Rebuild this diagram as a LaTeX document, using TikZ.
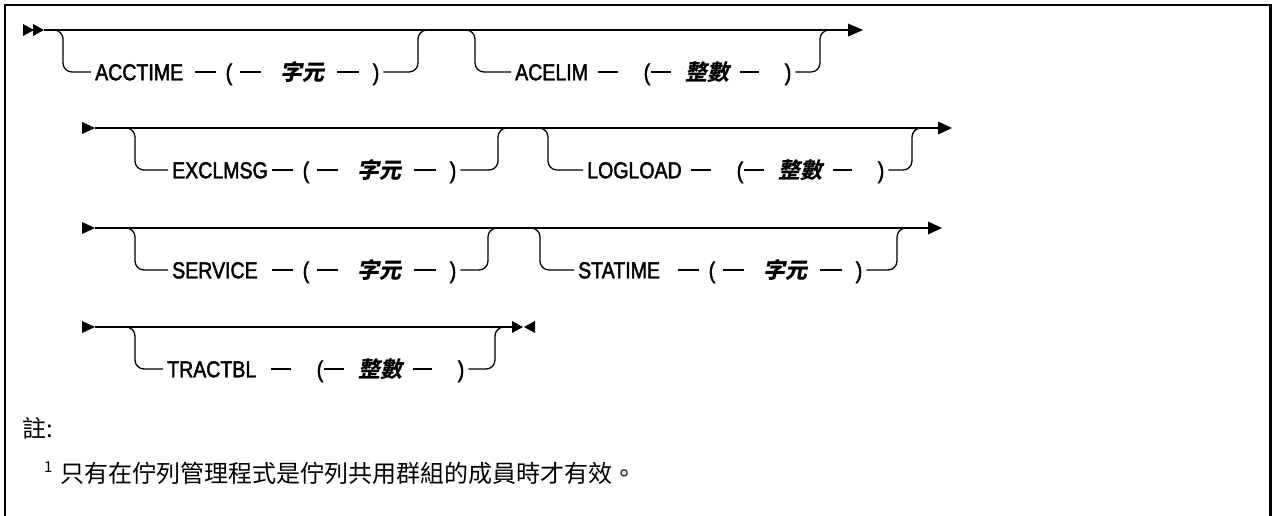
\documentclass[tikz,border=0pt]{standalone}
\usepackage{fontspec}
\usetikzlibrary{calc}
\newfontfamily\kwfont[FakeStretch=0.85,FakeBold=2]{Liberation Sans}
\newfontfamily\argfontfam[FakeSlant=0.2]{Noto Sans CJK TC}
\newfontfamily\notefont{Noto Sans CJK TC}
\tikzset{
  ln/.style={line width=1.3pt},
  tok/.style={inner sep=0pt, text height=18.5pt, text depth=2pt},
  kwd/.style={tok, anchor=west, font=\kwfont\fontsize{23}{27}\selectfont},
  par/.style={tok, font=\kwfont\fontsize{23}{27}\selectfont},
  argz/.style={tok, font=\argfontfam\bfseries\fontsize{22}{26}\selectfont},
  brk/.style={ln, rounded corners=9pt},
  notesty/.style={inner sep=0pt, font=\notefont\fontsize{24}{28}\selectfont},
  supsty/.style={inner sep=0pt, font=\notefont\fontsize{15}{18}\selectfont}
}
% group "KW -- ( -- 字元 -- )"
\newcommand{\zygroup}[4]{%
  \node[kwd] (#1k) at (#2,#3) {#4};
  \node[par] (#1l) at ($(#1k.west)+(134,0)$) {(};
  \node[argz] (#1a) at ($(#1k.west)+(207,0)$) {字元};
  \node[par] (#1r) at ($(#1k.west)+(281,0)$) {)};
  \draw[ln] ($(#1k.west)+(100,0)$) -- ($(#1k.west)+(121,0)$);
  \draw[ln] ($(#1k.west)+(145,0)$) -- ($(#1k.west)+(166,0)$);
  \draw[ln] ($(#1k.west)+(242,0)$) -- ($(#1k.west)+(264,0)$);
}
% group "KW -- (-- 整數 -- )"
\newcommand{\zsgroup}[5]{%
  \node[kwd] (#1k) at (#2,#3) {#4};
  \node[par] (#1l) at ($(#1k.west)+(153+#5,0)$) {(};
  \node[argz] (#1a) at ($(#1k.west)+(213+#5,0)$) {整數};
  \node[par] (#1r) at ($(#1k.west)+(294+#5,0)$) {)};
  \draw[ln] ($(#1k.west)+(104+#5,0)$) -- ($(#1k.west)+(124+#5,0)$);
  \draw[ln] ($(#1k.west)+(157+#5,0)$) -- ($(#1k.west)+(177+#5,0)$);
  \draw[ln] ($(#1k.west)+(246+#5,0)$) -- ($(#1k.west)+(265+#5,0)$);
}
\begin{document}
\begin{tikzpicture}[x=1pt,y=-1pt]
\useasboundingbox (0,0) rectangle (1274,515);
% frame
\draw[line width=2.5pt] (5,530) -- (5,5) -- (1270.5,5) -- (1270.5,530);

% ---------- row 1 ----------
\fill (23,24) -- (34,30) -- (23,36) -- cycle;
\fill (33,24) -- (44,30) -- (33,36) -- cycle;
\coordinate (s1) at (44,30);
\coordinate (e1) at (849,30);
\draw[ln] (s1) -- (e1);
\fill (848,23.5) -- (863,30) -- (848,36.5) -- cycle;
\zygroup{a}{95}{72}{ACCTIME}
\draw[brk] (45,30) -- (63,30) -- (63,72) -- ([xshift=-4pt]ak.west);
\draw[brk] ([xshift=4pt]ar.east) -- (418,72) -- (418,30) -- (436,30);
\zsgroup{b}{515}{72}{ACELIM}{-21}
\draw[brk] (457,30) -- (475,30) -- (475,72) -- ([xshift=-4pt]bk.west);
\draw[brk] ([xshift=4pt]br.east) -- (820,72) -- (820,30) -- (838,30);

% ---------- row 2 ----------
\fill (82,122) -- (95,128) -- (82,134) -- cycle;
\coordinate (s2) at (95,128);
\coordinate (e2) at (939,128);
\draw[ln] (s2) -- (e2);
\fill (938,121.5) -- (952,128) -- (938,134.5) -- cycle;
\zygroup{c}{172}{170}{EXCLMSG}
\draw[brk] (117,128) -- (135,128) -- (135,170) -- ([xshift=-4pt]ck.west);
\draw[brk] ([xshift=4pt]cr.east) -- (498,170) -- (498,128) -- (516,128);
\zsgroup{d}{587}{170}{LOGLOAD}{0}
\draw[brk] (530,128) -- (548,128) -- (548,170) -- ([xshift=-4pt]dk.west);
\draw[brk] ([xshift=4pt]dr.east) -- (912,170) -- (912,128) -- (930,128);

% ---------- row 3 ----------
\fill (82,222) -- (95,228) -- (82,234) -- cycle;
\coordinate (s3) at (95,228);
\coordinate (e3) at (929,228);
\draw[ln] (s3) -- (e3);
\fill (928,221.5) -- (942,228) -- (928,234.5) -- cycle;
\zygroup{e}{172}{270}{SERVICE}
\draw[brk] (117,228) -- (135,228) -- (135,270) -- ([xshift=-4pt]ek.west);
\draw[brk] ([xshift=4pt]er.east) -- (488,270) -- (488,228) -- (506,228);
\zygroup{f}{578}{270}{STATIME}
\draw[brk] (522,228) -- (540,228) -- (540,270) -- ([xshift=-4pt]fk.west);
\draw[brk] ([xshift=4pt]fr.east) -- (897,270) -- (897,228) -- (915,228);

% ---------- row 4 ----------
\fill (82,321) -- (95,327) -- (82,333) -- cycle;
\coordinate (s4) at (95,327);
\coordinate (e4) at (512,327);
\draw[ln] (s4) -- (e4);
\fill (512,321) -- (523,327) -- (512,333) -- cycle;
\fill (535,321) -- (524,327) -- (535,333) -- cycle;
\zsgroup{g}{167}{369}{TRACTBL}{0}
\draw[brk] (117,327) -- (135,327) -- (135,369) -- ([xshift=-4pt]gk.west);
\draw[brk] ([xshift=4pt]gr.east) -- (495,369) -- (495,327) -- (510,327);

% ---------- notes ----------
\node[notesty, anchor=base west] (nt) at (22,437) {註:};
\node[supsty, anchor=base west] (ns) at (44,472) {1};
\node[notesty, anchor=base west] (n1) at (60,482) {只有在佇列管理程式是佇列共用群組的成員時才有效。};
\end{tikzpicture}
\end{document}
